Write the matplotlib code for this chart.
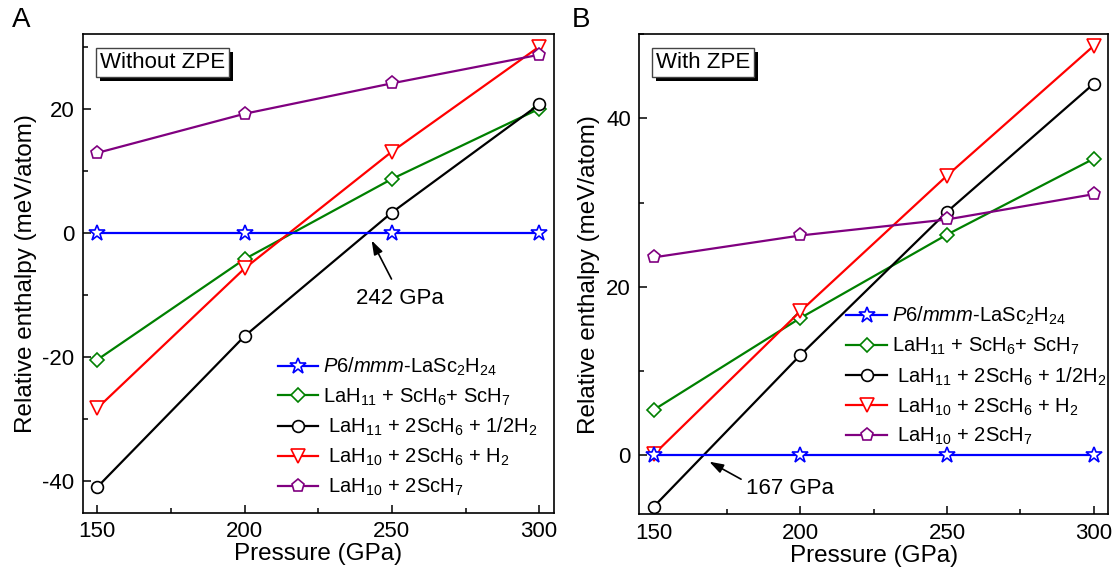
import matplotlib
matplotlib.use('Agg')
import matplotlib.pyplot as plt
import matplotlib.patheffects as pe
from matplotlib.ticker import MultipleLocator

plt.rcParams['font.family'] = ['Liberation Sans', 'DejaVu Sans']
plt.rcParams['mathtext.fontset'] = 'custom'
plt.rcParams['mathtext.rm'] = 'Liberation Sans'
plt.rcParams['mathtext.it'] = 'Liberation Sans:italic'
plt.rcParams['axes.unicode_minus'] = False

pressure = [150, 200, 250, 300]

# Without ZPE
a_p6mmm = [0, 0, 0, 0]
a_lah11_sch6_sch7 = [-20.4, -4.2, 8.7, 20.0]
a_lah11_2sch6_h2 = [-40.9, -16.6, 3.3, 20.7]
a_lah10_2sch6_h2 = [-28.2, -5.7, 13.1, 30.0]
a_lah10_2sch7 = [12.9, 19.2, 24.1, 28.7]

# With ZPE
b_p6mmm = [0, 0, 0, 0]
b_lah11_sch6_sch7 = [5.4, 16.3, 26.2, 35.2]
b_lah11_2sch6_h2 = [-6.1, 11.9, 28.9, 44.1]
b_lah10_2sch6_h2 = [0.1, 17.1, 33.2, 48.6]
b_lah10_2sch7 = [23.5, 26.1, 28.0, 31.0]

labels = [r'$\mathit{P}$6/$\mathit{mmm}$-LaSc$_2$H$_{24}$',
          r'LaH$_{11}$ + ScH$_6$+ ScH$_7$',
          r' LaH$_{11}$ + 2ScH$_6$ + 1/2H$_2$',
          r' LaH$_{10}$ + 2ScH$_6$ + H$_2$',
          r' LaH$_{10}$ + 2ScH$_7$']
colors = ['#0000ff', '#008000', '#000000', '#ff0000', '#800080']
markers = ['*', 'D', 'o', 'v', 'p']
msizes = [12, 7.5, 8.5, 10, 9.5]

fig = plt.figure(figsize=(11.16, 5.72), dpi=100)
axA = fig.add_axes([0.074, 0.104, 0.4223, 0.8361])
axB = fig.add_axes([0.5727, 0.101, 0.4203, 0.8392])


def draw(ax, series, ylim, ymaj, box_text, leg_anchor):
    handles = [None] * 5
    for i in [1, 2, 3, 4, 0]:
        h, = ax.plot(pressure, series[i], marker=markers[i], color=colors[i], lw=1.6,
                     markersize=msizes[i], markerfacecolor='white', markeredgewidth=1.2,
                     label=labels[i], zorder=3 if i else 4)
        handles[i] = h
    ax.set_xlim(145, 305)
    ax.set_ylim(*ylim)
    ax.xaxis.set_major_locator(MultipleLocator(50))
    ax.xaxis.set_minor_locator(MultipleLocator(25))
    ax.yaxis.set_major_locator(MultipleLocator(ymaj))
    ax.yaxis.set_minor_locator(MultipleLocator(ymaj / 2))
    ax.tick_params(which='both', direction='in', top=False, right=False, labelsize=16)
    ax.tick_params(which='major', length=6, width=1.1, pad=6)
    ax.tick_params(which='minor', length=3.5, width=1.1)
    for s in ax.spines.values():
        s.set_linewidth(1.2)
    ax.set_xlabel('Pressure (GPa)', fontsize=17.5, labelpad=1)
    ax.set_ylabel('Relative enthalpy (meV/atom)', fontsize=17.5, labelpad=4)
    ax.legend(handles=handles, loc='upper left', bbox_to_anchor=leg_anchor,
              frameon=False, fontsize=14.5, handlelength=2.0, handletextpad=0.25,
              labelspacing=0.42, borderpad=0, borderaxespad=0)
    t = ax.text(0.036, 0.942, box_text, transform=ax.transAxes, fontsize=16, va='center',
                bbox=dict(boxstyle='square,pad=0.18', fc='white', ec='#444444', lw=1.0), zorder=6)
    t.get_bbox_patch().set_path_effects([
        pe.SimplePatchShadow(offset=(3, -3), shadow_rgbFace='black', alpha=1.0), pe.Normal()])


draw(axA, [a_p6mmm, a_lah11_sch6_sch7, a_lah11_2sch6_h2, a_lah10_2sch6_h2, a_lah10_2sch7],
     (-45, 32), 20, 'Without ZPE', (0.4146, 0.328))
draw(axB, [b_p6mmm, b_lah11_sch6_sch7, b_lah11_2sch6_h2, b_lah10_2sch6_h2, b_lah10_2sch7],
     (-7, 50), 20, 'With ZPE', (0.442, 0.436))

axA.annotate('', xy=(242.7, -0.8), xytext=(250.3, -7.8),
             arrowprops=dict(arrowstyle='-|>,head_length=0.6,head_width=0.2',
                             color='black', lw=1.2, mutation_scale=14))
axA.text(252.6, -10.5, '242 GPa', fontsize=16, ha='center', va='center')
axB.annotate('', xy=(168.1, -0.6), xytext=(180.6, -3.0),
             arrowprops=dict(arrowstyle='-|>,head_length=0.6,head_width=0.2',
                             color='black', lw=1.2, mutation_scale=14))
axB.text(196.3, -3.9, '167 GPa', fontsize=16, ha='center', va='center')

fig.text(0.011, 0.965, 'A', fontsize=20, va='center')
fig.text(0.512, 0.965, 'B', fontsize=20, va='center')

fig.savefig('out.png', dpi=100)
